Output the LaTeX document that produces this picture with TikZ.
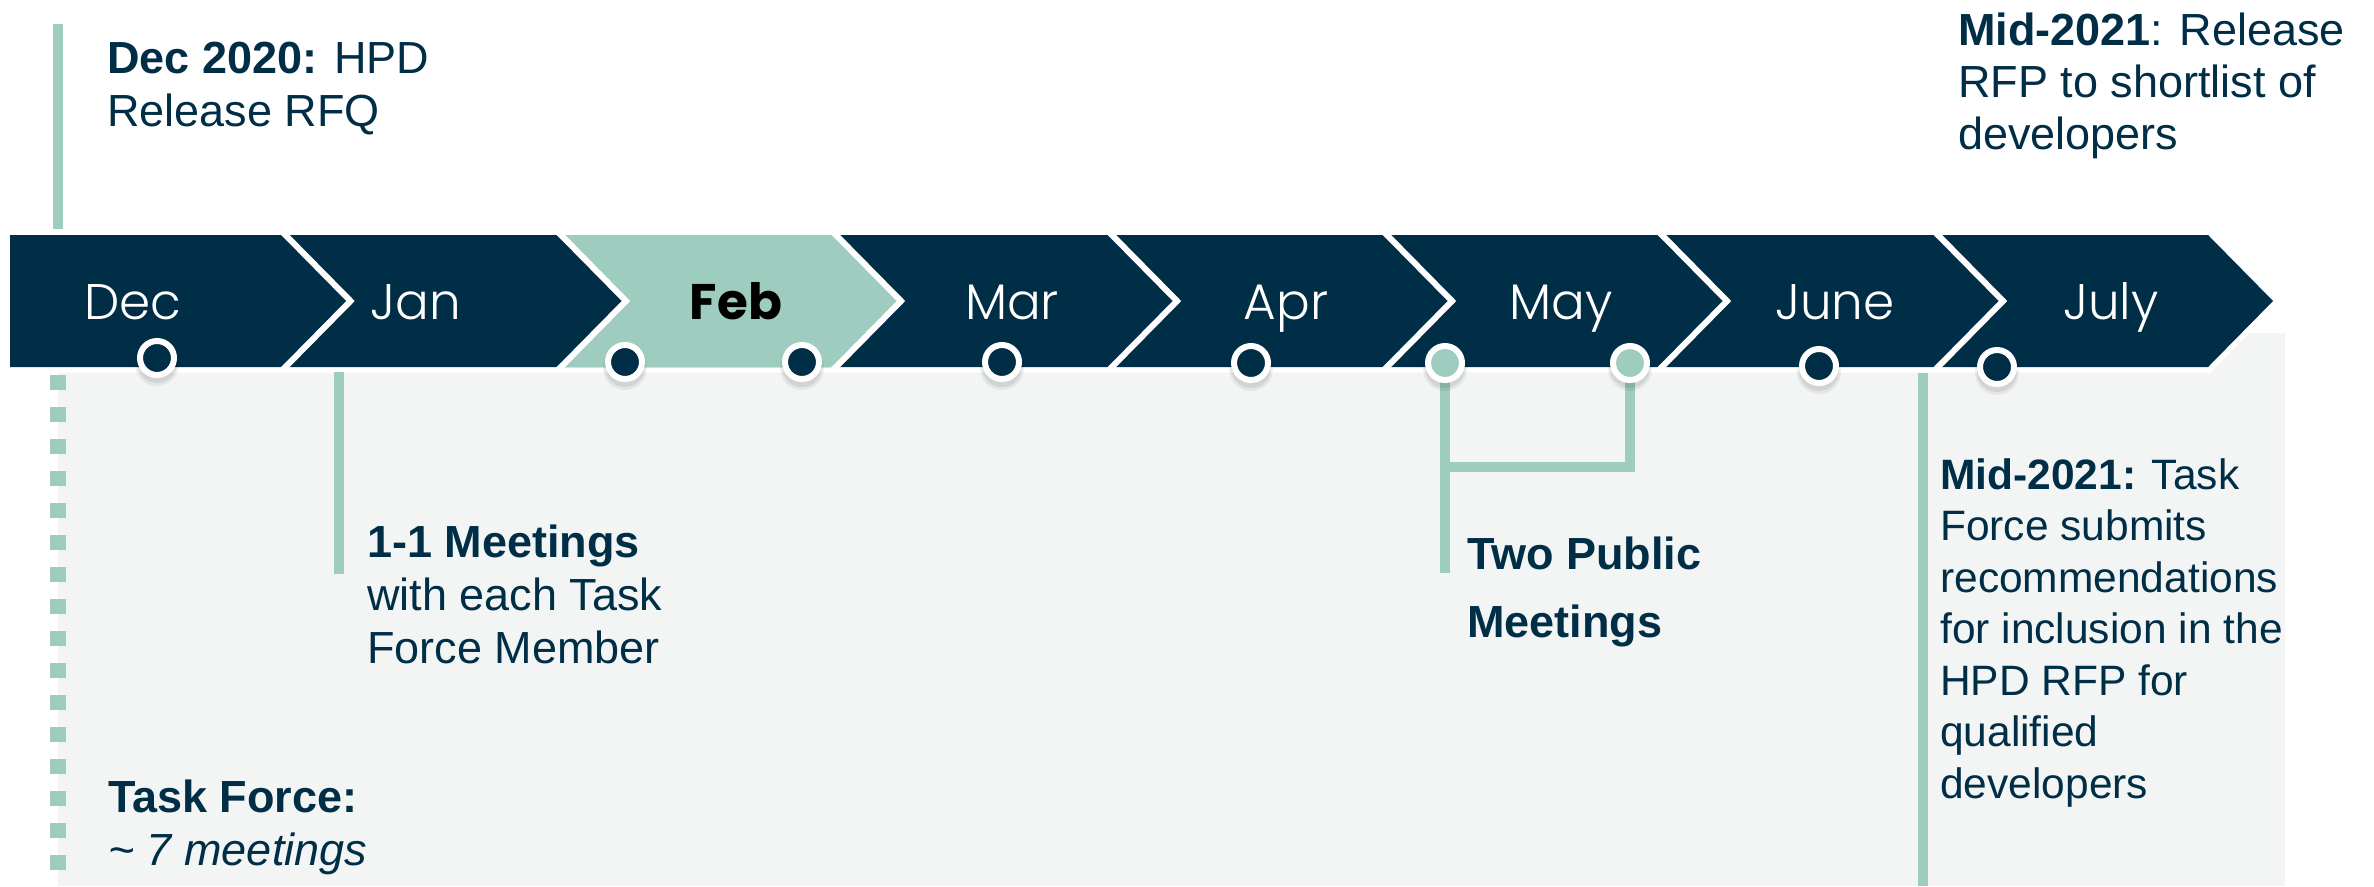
\documentclass[tikz,border=0pt]{standalone}
\usepackage{fontspec}
\setmainfont{Liberation Sans}
\newfontfamily\monthfont{Poppins Light}
\newfontfamily\monthbold{Poppins}[FakeBold=0]
\definecolor{navy}{HTML}{002E46}
\definecolor{tealc}{HTML}{9ECCBE}
\definecolor{panel}{HTML}{F3F5F4}
\pgfdeclarelayer{back}
\pgfdeclarelayer{lines}
\pgfsetlayers{back,lines,main}
\begin{document}
\begin{tikzpicture}[x=1pt,y=-1pt,
  tline/.style={draw=tealc, line width=10},
  dotc/.style={circle, minimum size=34, inner sep=0, draw=white, line width=6, fill=navy},
  dott/.style={dotc, fill=tealc},
  monthlbl/.style={anchor=base, inner sep=0, text=white, font=\monthfont\fontsize{50}{60}\selectfont},
  txt/.style={anchor=north west, inner sep=0, align=left, text=navy, font=\fontsize{45}{53}\selectfont}]
\useasboundingbox (0,0) rectangle (2374,886);
\begin{pgfonlayer}{back}
\fill[white] (0,0) rectangle (2374,886);
\fill[panel] (58,333) rectangle (2285,886);
\draw[white, line width=11, line join=miter] (10,235) -- (2208,235) -- (2273,301) -- (2208,367) -- (10,367) -- cycle;
\fill[navy] (10,235) -- (2208,235) -- (2273,301) -- (2208,367) -- (10,367) -- cycle;
\fill[tealc] (561,235) -- (836,235) -- (901,301) -- (836,367) -- (561,367) -- (626,301) -- cycle;
\foreach \b in {285.5,561,836,1112,1387,1662,1938}
  \draw[white, line width=6, line join=miter] (\b-4,231) -- (\b+65,301) -- (\b-4,371);
\end{pgfonlayer}

% month labels
\node[monthlbl] (mDec) at (133,319) {Dec};
\node[monthlbl] (mJan) at (416,319) {Jan};
\node[monthlbl, text=black, font=\monthbold\bfseries\fontsize{50}{60}\selectfont] (mFeb) at (736,319) {Feb};
\node[monthlbl] (mMar) at (1012,319) {Mar};
\node[monthlbl] (mApr) at (1286,319) {Apr};
\node[monthlbl] (mMay) at (1561,319) {May};
\node[monthlbl] (mJun) at (1835,319) {June};
\node[monthlbl] (mJul) at (2111,319) {July};

% shadows
\foreach \x/\y in {157/358,625/362,802/362,1002/362,1251/363,1445/363,1630/363,1819/366,1997/367}{
  \fill[black, opacity=0.06] (\x,\y+6) circle (22);
  \fill[black, opacity=0.08] (\x,\y+5) circle (20);
}
% markers
\node[dotc] (cDec) at (157,358) {};
\node[dotc] (cFebA) at (625,362) {};
\node[dotc] (cFebB) at (802,362) {};
\node[dotc] (cMar) at (1002,362) {};
\node[dotc] (cApr) at (1251,363) {};
\node[dott] (cMayA) at (1445,363) {};
\node[dott] (cMayB) at (1630,363) {};
\node[dotc] (cJun) at (1819,366) {};
\node[dotc] (cJul) at (1997,367) {};

% connector coordinates
\coordinate (tlTop) at (58,24);
\coordinate (tlBot) at (58,229);
\coordinate (dTop) at (58,375);
\coordinate (dBot) at (58,886);
\coordinate (janTop) at (339,372);
\coordinate (janBot) at (339,574);
\coordinate (mayABot) at (1445,573);
\coordinate (mayBend) at (1630,467);
\coordinate (mayJoin) at (1440,467);
\coordinate (midTop) at (1923,373);
\coordinate (midBot) at (1923,886);

\begin{pgfonlayer}{lines}
\draw[tline] (tlTop) -- (tlBot);
\draw[draw=tealc, line width=16, dash pattern=on 15 off 17] (dTop) -- (dBot);
\draw[tline] (janTop) -- (janBot);
\draw[tline] (cMayA.center) -- (mayABot);
\draw[tline] (cMayB.center) -- (mayBend) -- (mayJoin);
\draw[tline] (midTop) -- (midBot);
\end{pgfonlayer}

% texts
\node[txt] (tDec) at (107,42) {\textbf{Dec 2020:} HPD\\Release RFQ};
\node[txt, font=\fontsize{45}{52}\selectfont] (tMidTop) at (1958,13) {\textbf{Mid-2021}: Release\\RFP to shortlist of\\developers};
\node[txt] (tOne) at (367,525) {\textbf{1-1 Meetings}\\with each Task\\Force Member};
\node[txt, font=\fontsize{45}{68}\selectfont] (tTwo) at (1467,537) {\textbf{Two Public}\\\textbf{Meetings}};
\node[txt, font=\fontsize{42.5}{51.5}\selectfont] (tMidBot) at (1940,458) {\textbf{Mid-2021:} Task\\Force submits\\recommendations\\for inclusion in the\\HPD RFP for\\qualified\\developers};
\node[txt] (tTask) at (108,780) {\textbf{Task Force:}\\\textit{\textasciitilde{} 7 meetings}};
\end{tikzpicture}
\end{document}
